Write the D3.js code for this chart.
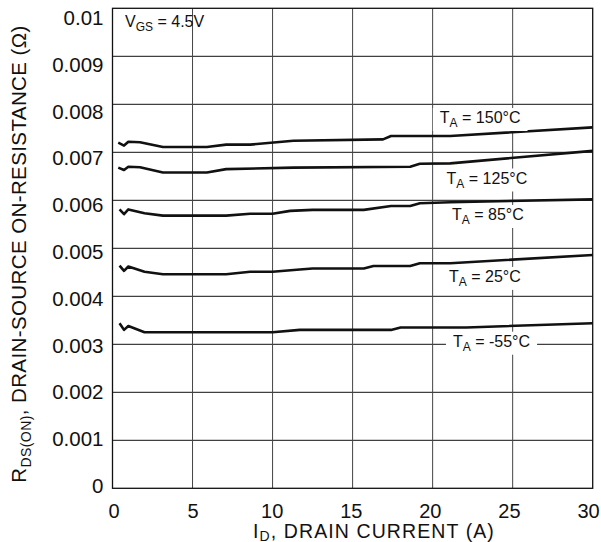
<!DOCTYPE html>
<html>
<head>
  <meta charset="UTF-8">
  <style>
    body { margin: 0; background: white; }
    svg { display: block; font-family: "Liberation Sans", Arial, Helvetica, sans-serif; }
  </style>
</head>
<body>
<svg></svg>
<script src="https://cdn.jsdelivr.net/npm/d3@7"></script>
<script>

let width = 601, height = 542;
let margin = {top: 8.3, right: 8.3, bottom: 53.7, left: 112.5};

// x ticks / y ticks
const xTicks = [0, 5, 10, 15, 20, 25, 30];
const xTickLabels = ["0", "5", "10", "15", "20", "25", "30"];
const yTicks = [0, 0.001, 0.002, 0.003, 0.004, 0.005, 0.006, 0.007, 0.008, 0.009, 0.01];
const yTickLabels = ["0", "0.001", "0.002", "0.003", "0.004", "0.005", "0.006", "0.007", "0.008", "0.009", "0.01"];

// curves, one per ambient temperature
const temps = ["150", "125", "85", "25", "-55"];

const current150 = [0.36, 0.72, 0.99, 1.72, 3.15, 5.9, 7.1, 8.6, 11.3, 16.9, 17.4, 21.1, 30];
const rds150 = [0.00720, 0.00714, 0.00722, 0.00721, 0.00711, 0.00711, 0.00716, 0.00716, 0.00724, 0.00727, 0.00734, 0.00734, 0.00752];

const current125 = [0.36, 0.72, 0.99, 1.72, 3.15, 5.9, 7.1, 11.3, 18.6, 19.2, 21.1, 30];
const rds125 = [0.00668, 0.00663, 0.00670, 0.00669, 0.00658, 0.00658, 0.00665, 0.00668, 0.00670, 0.00676, 0.00677, 0.00703];

const current85 = [0.44, 0.72, 0.99, 2.0, 3.15, 7.1, 8.6, 10.0, 11.1, 12.5, 15.7, 17.4, 18.6, 19.2, 21.1, 30];
const rds85 = [0.00581, 0.00571, 0.00581, 0.00573, 0.00568, 0.00568, 0.00572, 0.00572, 0.00578, 0.00580, 0.00580, 0.00588, 0.00588, 0.00594, 0.00596, 0.00602];

const current25 = [0.44, 0.72, 0.99, 2.0, 3.15, 7.1, 8.6, 10.0, 11.7, 12.5, 15.7, 16.3, 18.6, 19.2, 21.1, 30];
const rds25 = [0.00464, 0.00453, 0.00462, 0.00451, 0.00446, 0.00446, 0.00451, 0.00451, 0.00456, 0.00458, 0.00458, 0.00463, 0.00463, 0.00469, 0.00469, 0.00486];

const currentM55 = [0.44, 0.72, 0.99, 2.0, 10.0, 11.7, 17.4, 18.0, 22.1, 30];
const rdsM55 = [0.00344, 0.00330, 0.00338, 0.00325, 0.00325, 0.00330, 0.00330, 0.00335, 0.00335, 0.00344];

// where each T_A label sits (data units)
const labelCurrent = [20.45, 20.87, 21.21, 21.02, 21.27];
const labelRds = [0.00761, 0.00635, 0.00559, 0.00430, 0.00295];

let series = [
  {t: temps[0], xs: current150, ys: rds150},
  {t: temps[1], xs: current125, ys: rds125},
  {t: temps[2], xs: current85, ys: rds85},
  {t: temps[3], xs: current25, ys: rds25},
  {t: temps[4], xs: currentM55, ys: rdsM55}
];

let svg = d3.select("svg")
    .attr("width", width)
    .attr("height", height);

let x = d3.scaleLinear().domain([0, 30]).range([margin.left, width - margin.right]);
let y = d3.scaleLinear().domain([0, 0.01]).range([height - margin.bottom, margin.top]);

// tick labels in the scan are spaced a little tighter than the grid
let xLab = d3.scaleLinear().domain([0, 30]).range([113.5, 588]);
let yLab = d3.scaleLinear().domain([0, 0.01]).range([486, 18]);

// grid
svg.append("g")
  .selectAll("line")
  .data(yTicks.slice(1, -1))
  .enter().append("line")
    .attr("x1", x(0)).attr("x2", x(30))
    .attr("y1", d => y(d)).attr("y2", d => y(d))
    .attr("stroke", "#111").attr("stroke-width", 1);

svg.append("g")
  .selectAll("line")
  .data(xTicks.slice(1, -1))
  .enter().append("line")
    .attr("y1", y(0)).attr("y2", y(0.01))
    .attr("x1", d => x(d)).attr("x2", d => x(d))
    .attr("stroke", "#444").attr("stroke-width", 1);

// frame
svg.append("rect")
    .attr("x", x(0)).attr("y", y(0.01))
    .attr("width", x(30) - x(0)).attr("height", y(0) - y(0.01))
    .attr("fill", "none").attr("stroke", "#111").attr("stroke-width", 1.3);

// axes
let yAxis = svg.append("g")
    .attr("transform", "translate(103.5,0)")
    .call(d3.axisLeft(yLab).tickValues(yTicks).tickSize(0).tickPadding(0)
        .tickFormat((d, i) => yTickLabels[i]));
yAxis.select(".domain").remove();
yAxis.selectAll("text").attr("font-size", 20.5).attr("fill", "#111")
    .style("font-family", "'Liberation Sans', Arial, sans-serif");

let xAxis = svg.append("g")
    .attr("transform", "translate(0,504)")
    .call(d3.axisBottom(xLab).tickValues(xTicks).tickSize(0).tickPadding(0)
        .tickFormat((d, i) => xTickLabels[i]));
xAxis.select(".domain").remove();
xAxis.selectAll("text").attr("font-size", 20).attr("fill", "#111")
    .style("font-family", "'Liberation Sans', Arial, sans-serif");

// curves
let line = d3.line().x(d => x(d[0])).y(d => y(d[1]));

svg.append("g")
  .selectAll("path")
  .data(series)
  .enter().append("path")
    .attr("d", s => line(s.xs.map((v, i) => [v, s.ys[i]])))
    .attr("fill", "none")
    .attr("stroke", "#111")
    .attr("stroke-width", 2.6)
    .attr("stroke-linejoin", "round");

// T_A labels with a white box that cuts the grid
series.forEach((s, i) => {
  let g = svg.append("g");
  let t = g.append("text")
      .attr("x", x(labelCurrent[i]))
      .attr("y", y(labelRds[i]))
      .attr("font-size", 16)
      .attr("fill", "#111");
  t.append("tspan").text("T");
  t.append("tspan").attr("font-size", 12).attr("dy", 4).text("A");
  t.append("tspan").attr("dy", -4).text(" = " + s.t + "°C");
  let b = t.node().getBBox();
  g.insert("rect", "text")
      .attr("x", b.x - 7).attr("y", b.y - 1)
      .attr("width", b.width + 14).attr("height", b.height + 2)
      .attr("fill", "white");
});

// V_GS note
let vgs = svg.append("text")
    .attr("x", 125).attr("y", 26.5)
    .attr("font-size", 16).attr("fill", "#111");
vgs.append("tspan").text("V");
vgs.append("tspan").attr("font-size", 12).attr("dy", 4).text("GS");
vgs.append("tspan").attr("dy", -4).text(" = 4.5V");

// axis titles
let xTitle = svg.append("text")
    .attr("x", 253).attr("y", 538)
    .attr("font-size", 19.5).attr("letter-spacing", 1.1).attr("fill", "#111");
xTitle.append("tspan").text("I");
xTitle.append("tspan").attr("font-size", 14).attr("dy", 3).text("D");
xTitle.append("tspan").attr("dy", -3).text(", DRAIN CURRENT (A)");

let yTitle = svg.append("text")
    .attr("transform", "translate(26," + 254 + ") rotate(-90)")
    .attr("text-anchor", "middle")
    .attr("font-size", 20.5).attr("letter-spacing", 0.4).attr("fill", "#111");
yTitle.append("tspan").text("R");
yTitle.append("tspan").attr("font-size", 14).attr("dy", 5).text("DS(ON)");
yTitle.append("tspan").attr("dy", -5).text(", DRAIN-SOURCE ON-RESISTANCE (Ω)");

</script>
</body>
</html>
